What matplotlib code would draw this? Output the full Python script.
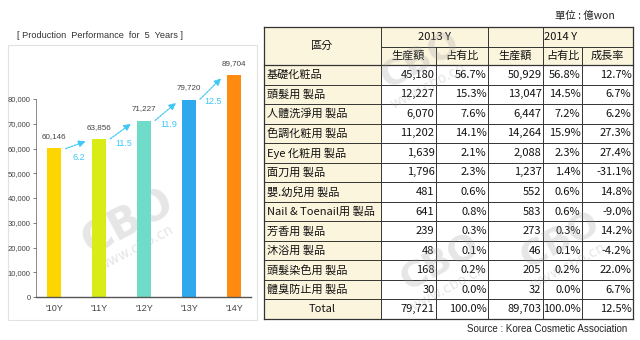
import matplotlib
matplotlib.use('Agg')
import matplotlib.pyplot as plt
from matplotlib.patches import Rectangle
from matplotlib.ticker import FuncFormatter

# ---- data ----
years = ["'10Y", "'11Y", "'12Y", "'13Y", "'14Y"]
production = [60146, 63856, 71227, 79720, 89704]
growth = ['6.2', '11.5', '11.9', '12.5']
bar_colors = ['#FFD500', '#D9EC16', '#6EDCC8', '#2FA8EE', '#FF8A10']

categories = ['基礎化粧品', '頭髮用 製品', '人體洗淨用 製品', '色調化粧用 製品', 'Eye 化粧用 製品',
              '面刀用 製品', '嬰.幼兒用 製品', 'Nail & Toenail用 製品', '芳香用 製品',
              '沐浴用 製品', '頭髮染色用 製品', '體臭防止用 製品', 'Total']
amount_2013 = ['45,180', '12,227', '6,070', '11,202', '1,639', '1,796', '481', '641', '239',
               '48', '168', '30', '79,721']
share_2013 = ['56.7%', '15.3%', '7.6%', '14.1%', '2.1%', '2.3%', '0.6%', '0.8%', '0.3%',
              '0.1%', '0.2%', '0.0%', '100.0%']
amount_2014 = ['50,929', '13,047', '6,447', '14,264', '2,088', '1,237', '552', '583', '273',
               '46', '205', '32', '89,703']
share_2014 = ['56.8%', '14.5%', '7.2%', '15.9%', '2.3%', '1.4%', '0.6%', '0.6%', '0.3%',
              '0.1%', '0.2%', '0.0%', '100.0%']
growth_2014 = ['12.7%', '6.7%', '6.2%', '27.3%', '27.4%', '-31.1%', '14.8%', '-9.0%', '14.2%',
               '-4.2%', '22.0%', '6.7%', '12.5%']

cjk = ['Noto Sans CJK KR', 'DejaVu Sans']
narrow = ['Liberation Sans Narrow', 'Liberation Sans', 'DejaVu Sans']

fig = plt.figure(figsize=(6.4, 3.4), dpi=100)
fig.patch.set_facecolor('white')

# overlay axes in pixel coordinates for table / decorations
ov = fig.add_axes([0, 0, 1, 1])
ov.set_xlim(0, 640)
ov.set_ylim(340, 0)
ov.axis('off')

# chart panel frame
ov.add_patch(Rectangle((8, 45), 249, 275, fill=False, ec='#E2E2E2', lw=0.8))
ov.text(17, 35, '[ Production  Performance  for  5  Years ]', fontsize=6.6,
        color='#333333', va='center', family=['Liberation Sans', 'DejaVu Sans'])

# ---- bar chart ----
ax = fig.add_axes([36 / 640, 43 / 340, 215 / 640, 247.5 / 340])
x = range(len(years))
ax.bar(x, production, width=0.31, color=bar_colors, zorder=2)
ax.set_xlim(-0.4, 4.38)
ax.set_ylim(0, 100000)
ax.set_yticks(range(0, 80001, 10000))
ax.yaxis.set_major_formatter(FuncFormatter(lambda v, p: f'{int(v):,}'))
ax.set_xticks(list(x))
ax.set_xticklabels(years)
for lab in ax.get_yticklabels() + ax.get_xticklabels():
    lab.set_family(narrow)
    lab.set_color('#444444')
for lab in ax.get_yticklabels():
    lab.set_fontsize(5.5)
for lab in ax.get_xticklabels():
    lab.set_fontsize(6.5)
ax.tick_params(axis='y', length=2, width=0.6, color='#666666', pad=2)
ax.tick_params(axis='x', length=0, pad=5)
ax.spines['top'].set_visible(False)
ax.spines['right'].set_visible(False)
ax.spines['left'].set_bounds(0, 80000)
ax.spines['left'].set_color('#777777')
ax.spines['left'].set_linewidth(0.6)
ax.spines['bottom'].set_color('#555555')
ax.spines['bottom'].set_linewidth(1.0)
ax.patch.set_alpha(0)

for i, v in enumerate(production):
    ax.annotate(f'{v:,}', (i, v), xytext=(0, 6), textcoords='offset points',
                ha='center', va='bottom', fontsize=5.8, color='#444444', family=narrow)

for i, g in enumerate(growth):
    x0, y0 = i + 0.2, production[i] - 600
    x1, y1 = i + 1 - 0.24, production[i + 1] - 600
    ax.annotate('', xy=(x1, y1), xytext=(x0, y0),
                arrowprops=dict(arrowstyle='-|>', color='#3FC8F5', lw=0.9,
                                linestyle=(0, (1.5, 1)), mutation_scale=10), zorder=3)
    ax.annotate(g, ((x0 + x1) / 2, (y0 + y1) / 2), xytext=(2, -9), textcoords='offset points',
                ha='center', va='center', fontsize=6.5, color='#3FC8F5', family=narrow)

# ---- table ----
col_edges = [264, 381, 436, 488, 543, 582, 633]
top = 27
h1, h2 = 47, 65
row_h = (319 - 65) / 13
beige = '#FBF5DE'
line_c = '#333333'

# header backgrounds
ov.add_patch(Rectangle((col_edges[0], top), col_edges[-1] - col_edges[0], h2 - top,
                       fc=beige, ec='none'))
for r in range(len(categories)):
    y0 = h2 + r * row_h
    ov.add_patch(Rectangle((col_edges[0], y0), col_edges[1] - col_edges[0], row_h,
                           fc=beige, ec='none'))

bottom = h2 + len(categories) * row_h
# horizontal lines
ov.plot([col_edges[0], col_edges[-1]], [top, top], color=line_c, lw=0.9)
ov.plot([col_edges[1], col_edges[-1]], [h1, h1], color=line_c, lw=0.7)
for r in range(len(categories) + 1):
    y = h2 + r * row_h
    lw = 0.9 if r in (0, len(categories)) else 0.7
    ov.plot([col_edges[0], col_edges[-1]], [y, y], color=line_c, lw=lw)
# vertical lines
for j, cx in enumerate(col_edges):
    if j in (2, 5):
        ov.plot([cx, cx], [h1, bottom], color=line_c, lw=0.7)
    else:
        lw = 0.9 if j in (0, len(col_edges) - 1) else 0.7
        ov.plot([cx, cx], [top, bottom], color=line_c, lw=lw)

fs = 8
tc = '#111111'
ov.text((col_edges[0] + col_edges[1]) / 2, (top + h2) / 2, '區分', ha='center', va='center',
        fontsize=fs, family=cjk, color=tc)
ov.text((col_edges[1] + col_edges[3]) / 2, (top + h1) / 2, '2013 Y', ha='center', va='center',
        fontsize=fs, family=cjk, color=tc)
ov.text((col_edges[3] + col_edges[6]) / 2, (top + h1) / 2, '2014 Y', ha='center', va='center',
        fontsize=fs, family=cjk, color=tc)
sub_heads = ['生産額', '占有比', '生産額', '占有比', '成長率']
for j, s in enumerate(sub_heads):
    ov.text((col_edges[j + 1] + col_edges[j + 2]) / 2, (h1 + h2) / 2, s, ha='center',
            va='center', fontsize=fs, family=cjk, color=tc)

columns = [amount_2013, share_2013, amount_2014, share_2014, growth_2014]
for r, cat in enumerate(categories):
    yc = h2 + (r + 0.5) * row_h
    if cat == 'Total':
        ov.text((col_edges[0] + col_edges[1]) / 2, yc, cat, ha='center', va='center',
                fontsize=fs, family=cjk, color=tc)
    else:
        ov.text(col_edges[0] + 3, yc, cat, ha='left', va='center', fontsize=fs,
                family=cjk, color=tc)
    for j, col in enumerate(columns):
        ov.text(col_edges[j + 2] - 1.5, yc, col[r], ha='right', va='center', fontsize=fs,
                family=cjk, color=tc)

ov.text(615, 16, '單位 : 億won', ha='right', va='center', fontsize=7.5, family=cjk, color='#222222')
ov.text(627, 329, 'Source : Korea Cosmetic Association', ha='right', va='center',
        fontsize=7, family=['Liberation Sans', 'DejaVu Sans'], color='#222222')

# faint watermarks
for (wx, wy, sz) in [(128, 222, 30), (420, 60, 26), (440, 262, 26), (560, 240, 26)]:
    ov.text(wx, wy, 'CBO', ha='center', va='center', fontsize=sz, fontweight='bold',
            color='#9A9A9A', alpha=0.25, rotation=28, family='DejaVu Sans')
    ov.text(wx + 8, wy + 26, 'www.cbo.cn', ha='center', va='center', fontsize=10,
            color='#9A9A9A', alpha=0.25, rotation=28, family='DejaVu Sans')

fig.savefig('out.png', dpi=100)
